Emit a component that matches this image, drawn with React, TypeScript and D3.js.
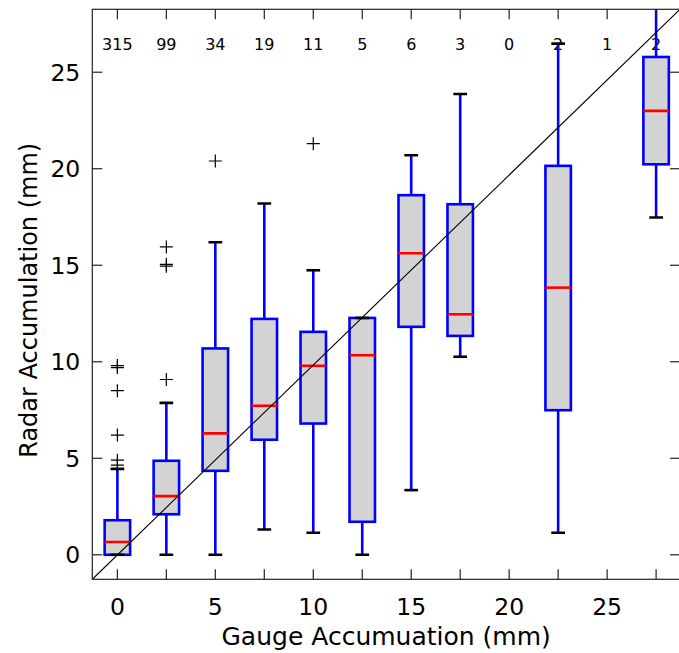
import React from "react";
import { scaleLinear, line } from "d3";

// bin centres (gauge, mm) and number of samples per bin
const positions = [0, 2.5, 5, 7.5, 10, 12.5, 15, 17.5, 20, 22.5, 25, 27.5];
const counts = [315, 99, 34, 19, 11, 5, 6, 3, 0, 2, 1, 2];

// box statistics (null = nothing drawn)
const q1 = [0, 2.1, 4.35, 5.96, 6.8, 1.71, 11.81, 11.34, null, 7.49, null, 20.23];
const medians = [0.66, 3.04, 6.29, 7.72, 9.79, 10.34, 15.62, 12.46, null, 13.84, null, 23.0];
const q3 = [1.79, 4.87, 10.69, 12.22, 11.55, 12.27, 18.63, 18.16, null, 20.15, null, 25.79];
const whiskLo = [0, 0, 0, 1.31, 1.14, 0, 3.35, 10.26, null, 1.14, null, 17.47];
const whiskHi = [4.45, 7.87, 16.19, 18.2, 14.74, 12.27, 20.7, 23.87, null, 26.48, null, 29.5];
const fliers = [
    [9.8, 9.7, 8.5, 6.2, 4.9, 4.65],
    [15.95, 15.05, 14.95, 9.08],
    [20.4],
    [],
    [21.3],
    [], [], [], [], [], [], [],
];

const xTicks = [0, 2.5, 5, 7.5, 10, 12.5, 15, 17.5, 20, 22.5, 25, 27.5];
const yTicks = [0, 5, 10, 15, 20, 25];

const W = 679;
const H = 653;
const margin = { top: 9.3, right: -1, bottom: 73.7, left: 92.3 };
const font = "'DejaVu Sans', sans-serif";

export default function App() {
    const left = margin.left;
    const right = W - margin.right;
    const top = margin.top;
    const bottom = H - margin.bottom;

    const xScale = scaleLinear().domain([-1.28, 28.72]).range([left, right]);
    const yScale = scaleLinear().domain([-1.27, 28.26]).range([bottom, top]);

    const boxW = 1.3;
    const capW = 0.7;
    const tickLen = 10;

    const diag = line<number[]>()
        .x((d) => xScale(d[0]))
        .y((d) => yScale(d[1]));
    const xd = xScale.domain();
    const yd = yScale.domain();

    return (
        <svg
            width={W}
            height={H}
            style={{ position: "absolute", left: 0, top: 0, background: "#fff" }}
            fontFamily={font}
        >
            <defs>
                <clipPath id="plotclip">
                    <rect x={left} y={top} width={right - left} height={bottom - top} />
                </clipPath>
            </defs>

            {/* counts above each bin */}
            {positions.map((p, i) => (
                <text
                    key={"c" + i}
                    x={xScale(p)}
                    y={50}
                    textAnchor="middle"
                    fontSize={16}
                    fill="#000"
                >
                    {counts[i]}
                </text>
            ))}

            <g clipPath="url(#plotclip)">
                {positions.map((p, i) => {
                    if (q1[i] === null) return null;
                    const cx = xScale(p);
                    const bw = xScale(p + boxW / 2) - cx;
                    const cw = xScale(p + capW / 2) - cx;
                    return (
                        <g key={"b" + i}>
                            {/* whiskers */}
                            <line x1={cx} x2={cx} y1={yScale(q1[i])} y2={yScale(whiskLo[i])} stroke="#0000ff" strokeWidth={2.6} />
                            <line x1={cx} x2={cx} y1={yScale(q3[i])} y2={yScale(whiskHi[i])} stroke="#0000ff" strokeWidth={2.6} />
                            {/* box */}
                            <rect
                                x={cx - bw}
                                y={yScale(q3[i])}
                                width={bw * 2}
                                height={yScale(q1[i]) - yScale(q3[i])}
                                fill="#d3d3d3"
                                stroke="#0000ff"
                                strokeWidth={2.6}
                            />
                            {/* median */}
                            <line x1={cx - bw} x2={cx + bw} y1={yScale(medians[i])} y2={yScale(medians[i])} stroke="#ff0000" strokeWidth={2.6} />
                            {/* caps */}
                            <line x1={cx - cw} x2={cx + cw} y1={yScale(whiskLo[i])} y2={yScale(whiskLo[i])} stroke="#000" strokeWidth={2.6} />
                            <line x1={cx - cw} x2={cx + cw} y1={yScale(whiskHi[i])} y2={yScale(whiskHi[i])} stroke="#000" strokeWidth={2.6} />
                            {/* fliers */}
                            {fliers[i].map((f, j) => (
                                <path
                                    key={j}
                                    d={`M${cx - 6.5},${yScale(f)}h13M${cx},${yScale(f) - 6.5}v13`}
                                    stroke="#000"
                                    strokeWidth={1.2}
                                    fill="none"
                                />
                            ))}
                        </g>
                    );
                })}

                {/* 1:1 line */}
                <path
                    d={diag([
                        [xd[0], yd[0]],
                        [xd[1], yd[1]],
                    ]) || ""}
                    stroke="#000"
                    strokeWidth={1.1}
                    fill="none"
                />
            </g>

            {/* frame */}
            <rect x={left} y={top} width={right - left} height={bottom - top} fill="none" stroke="#222" strokeWidth={1.2} />

            {/* x ticks, bottom and top */}
            {xTicks.map((t) => (
                <g key={"xt" + t}>
                    <line x1={xScale(t)} x2={xScale(t)} y1={bottom} y2={bottom - tickLen} stroke="#222" strokeWidth={1.2} />
                    <line x1={xScale(t)} x2={xScale(t)} y1={top} y2={top + tickLen} stroke="#222" strokeWidth={1.2} />
                    {t % 5 === 0 && (
                        <text x={xScale(t)} y={bottom + 36} textAnchor="middle" fontSize={23.5} fill="#000">
                            {t}
                        </text>
                    )}
                </g>
            ))}

            {/* y ticks, left and right */}
            {yTicks.map((t) => (
                <g key={"yt" + t}>
                    <line x1={left} x2={left + tickLen} y1={yScale(t)} y2={yScale(t)} stroke="#222" strokeWidth={1.2} />
                    <line x1={right} x2={right - tickLen} y1={yScale(t)} y2={yScale(t)} stroke="#222" strokeWidth={1.2} />
                    <text x={left - 12} y={yScale(t) + 8.5} textAnchor="end" fontSize={23.5} fill="#000">
                        {t}
                    </text>
                </g>
            ))}

            <text x={(left + right) / 2} y={645} textAnchor="middle" fontSize={25} fill="#000">
                Gauge Accumuation (mm)
            </text>
            <text
                transform={`translate(37,${(top + bottom) / 2 + 6}) rotate(-90)`}
                textAnchor="middle"
                fontSize={24}
                fill="#000"
            >
                Radar Accumulation (mm)
            </text>
        </svg>
    );
}
